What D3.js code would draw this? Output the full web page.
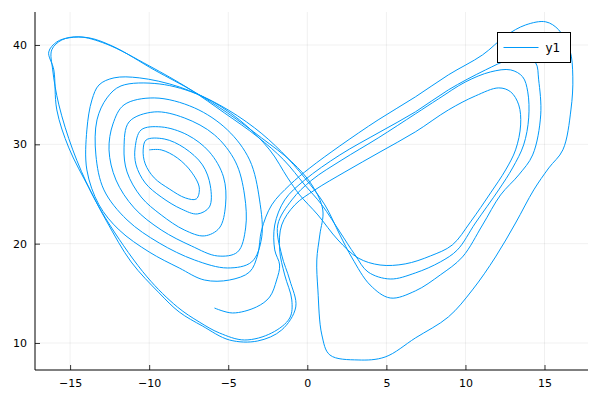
<!DOCTYPE html>
<html>
<head>
<meta charset="utf-8">
<script src="https://cdn.jsdelivr.net/npm/d3@7"></script>
<style>
  body { margin: 0; background: #fff; }
  svg { display: block; font-family: "DejaVu Sans", sans-serif; }
</style>
</head>
<body>
<svg id="chart" width="600" height="400"></svg>
<script>
// Trajectory (x, y in data units), in drawing order
const xValues = [
  -10.00,-9.24,-8.22,-7.33,-6.83,-7.02,-7.71,-8.73,-9.68,-10.25,-10.38,
  -10.19,-9.05,-7.78,-6.63,-6.13,-6.19,-6.95,-7.97,-9.24,-10.25,-10.83,-10.89,
  -10.51,-9.24,-7.59,-6.19,-5.30,-5.17,-5.56,-6.51,-7.78,-9.24,-10.51,-11.40,-11.59,
  -11.27,-9.68,-7.78,-5.87,-4.54,-3.97,-3.90,-4.41,-5.68,-7.33,-9.24,-10.95,-12.10,-12.54,-12.29,
  -11.59,-9.68,-7.14,-5.05,-3.65,-3.02,-2.89,-3.52,-5.05,-7.14,-9.37,-11.40,-12.86,-13.37,-13.30,-12.67,
  -11.78,-9.37,-6.70,-4.29,-2.38,-1.24,-0.48,
  0.67,1.94,3.21,4.60,6.19,7.78,9.17,10.32,11.59,12.54,13.17,13.49,13.37,12.86,12.10,10.63,8.92,6.83,4.60,2.38,0.48,
  -0.79,-1.62,-1.75,-1.43,-0.98,-1.11,-2.25,-3.97,-5.56,-6.83,-8.22,-10.13,-12.41,-13.68,-14.83,-15.71,-16.10,-16.16,-15.52,-14.44,-12.73,-10.00,-7.46,-5.24,-3.14,-1.49,-0.16,
  0.92,2.06,3.02,3.84,5.24,6.83,8.41,9.49,10.63,12.10,12.98,13.68,14.00,13.94,13.62,12.86,11.59,10.00,8.29,6.83,4.48,2.19,0.29,
  -0.98,-1.87,-1.62,-1.11,-0.73,-1.62,-3.14,-4.92,-6.63,-8.10,-9.37,-11.14,-12.67,-13.81,-15.08,-15.84,-16.03,-16.35,-15.84,-15.08,-13.81,-12.22,-9.68,-7.14,-5.05,-2.89,-0.98,0.29,0.98,
  0.79,0.60,0.67,0.92,1.43,3.21,4.92,6.83,8.92,10.44,11.90,13.17,14.32,15.27,16.16,16.67,16.79,16.60,15.90,15.08,13.81,12.54,11.08,8.92,6.83,4.48,2.06,0.16,
  -1.11,-2.25,-2.89,-3.14,-3.65,-4.92,-6.51,-8.10,-10.00,-11.90,-13.17,-13.94,-13.94,-13.62,-13.17,-12.22,-10.63,-8.10,-5.56,-3.33,-1.62,-0.16,
  1.11,2.06,2.83,3.97,5.24,6.83,8.41,9.81,11.08,12.22,13.37,14.25,14.76,14.63,14.44,13.81,12.73,11.27,8.92,6.83,4.60,2.06,-0.16,
  -1.43,-2.06,-2.06,-1.75,-1.94,-2.38,-3.21,-4.73,-5.87
];
const yValues = [
  29.44,29.44,28.63,27.22,25.61,24.50,24.60,25.51,26.62,28.03,29.44,
  30.44,30.54,29.64,27.93,25.81,23.70,22.99,23.49,24.70,26.11,27.93,29.64,
  31.45,31.75,30.95,29.23,26.72,23.90,21.58,20.78,21.38,22.89,24.70,27.22,29.64,
  32.26,33.26,32.66,30.95,28.23,24.90,21.58,19.16,18.76,19.77,21.38,23.60,26.41,29.44,32.05,
  33.97,34.67,33.67,31.45,28.43,24.40,20.57,18.16,17.55,18.36,20.07,22.39,25.41,28.93,32.46,34.67,
  35.88,36.08,34.87,32.46,29.44,26.62,24.90,
  22.89,20.37,18.56,17.85,17.96,18.76,19.87,22.19,25.11,27.42,29.44,31.95,33.97,35.28,35.68,34.87,33.46,31.25,29.23,27.22,25.41,
  23.90,21.88,19.37,16.85,14.33,12.52,11.01,10.30,11.01,12.11,13.63,16.65,21.68,25.21,29.44,33.97,37.49,39.51,40.51,40.82,40.11,37.90,35.58,33.16,30.75,28.43,25.91,
  23.90,21.18,18.86,17.15,16.44,17.05,18.16,19.37,22.08,25.41,27.62,29.94,32.66,35.28,36.79,37.49,37.29,36.28,34.57,33.06,30.64,28.43,26.41,
  24.40,21.88,18.86,16.34,13.63,11.31,10.20,10.30,11.71,13.12,15.04,18.16,22.19,25.61,29.64,33.46,37.49,39.30,40.31,40.72,40.72,39.81,37.49,35.28,33.16,30.64,28.23,25.91,23.39,
  20.88,18.36,15.34,10.81,8.79,8.29,8.59,10.50,12.62,15.34,18.66,22.08,25.41,27.62,29.44,33.46,36.79,39.51,41.52,42.33,42.02,40.92,39.00,36.99,34.77,32.46,29.84,27.62,
  25.91,23.90,21.38,18.86,17.15,16.34,16.34,17.55,19.16,21.38,23.90,27.42,31.45,34.47,35.98,36.69,36.69,35.78,33.97,31.65,29.23,26.62,
  23.90,20.88,18.56,15.84,14.53,15.24,16.85,18.66,21.88,24.90,26.92,28.93,32.96,36.49,38.20,38.70,38.50,37.49,35.48,33.26,31.25,28.93,26.41,
  24.40,21.88,19.37,17.85,16.34,14.63,13.63,13.02,13.52
];
const xTicks = [-15, -10, -5, 0, 5, 10, 15];
const yTicks = [10, 20, 30, 40];
const seriesName = "y1";

const svg = d3.select("#chart");
const plot = { left: 35, right: 588, top: 12, bottom: 370 };
const lineColor = "#009AFA";

const x = d3.scaleLinear().domain([-17.22, 17.75]).range([plot.left, plot.right]);
const y = d3.scaleLinear().domain([7.28, 43.32]).range([plot.bottom, plot.top]);

// grid
svg.append("g").selectAll("line").data(xTicks).join("line")
  .attr("x1", d => x(d)).attr("x2", d => x(d))
  .attr("y1", plot.top).attr("y2", plot.bottom)
  .attr("stroke", "#000").attr("stroke-opacity", 0.1).attr("stroke-width", 0.6);
svg.append("g").selectAll("line").data(yTicks).join("line")
  .attr("y1", d => y(d)).attr("y2", d => y(d))
  .attr("x1", plot.left).attr("x2", plot.right)
  .attr("stroke", "#000").attr("stroke-opacity", 0.1).attr("stroke-width", 0.6);

// axes
const xAxis = d3.axisBottom(x).tickValues(xTicks).tickSize(-5).tickPadding(9).tickFormat(d3.format("d"));
const yAxis = d3.axisLeft(y).tickValues(yTicks).tickSize(-5).tickPadding(8).tickFormat(d3.format("d"));
const gx = svg.append("g").attr("transform", `translate(0,${plot.bottom})`).call(xAxis);
const gy = svg.append("g").attr("transform", `translate(${plot.left},0)`).call(yAxis);
[gx, gy].forEach(g => {
  g.select(".domain").attr("stroke", "#000").attr("stroke-width", 1);
  g.selectAll(".tick line").attr("stroke", "#000").attr("stroke-width", 0.8);
  g.selectAll(".tick text").attr("fill", "#000").attr("font-size", 11)
    .attr("font-family", "DejaVu Sans, sans-serif");
});
gx.select(".domain").attr("d", `M${plot.left},0H${plot.right}`);
gy.select(".domain").attr("d", `M0,${plot.bottom}V${plot.top}`);

// data line
const pts = xValues.map((v, i) => [v, yValues[i]]);
const line = d3.line().x(d => x(d[0])).y(d => y(d[1])).curve(d3.curveCatmullRom.alpha(0.5));
svg.append("path").datum(pts).attr("d", line)
  .attr("fill", "none").attr("stroke", lineColor).attr("stroke-width", 1);

// legend
const lg = svg.append("g").attr("transform", "translate(497.5,32.5)");
lg.append("rect").attr("width", 73).attr("height", 30)
  .attr("fill", "#fff").attr("stroke", "#000").attr("stroke-width", 1);
lg.append("line").attr("x1", 6).attr("x2", 41).attr("y1", 15).attr("y2", 15)
  .attr("stroke", lineColor).attr("stroke-width", 1);
lg.append("text").attr("x", 48).attr("y", 19.5).attr("font-size", 12)
  .attr("fill", "#000").text(seriesName);
</script>
</body>
</html>
